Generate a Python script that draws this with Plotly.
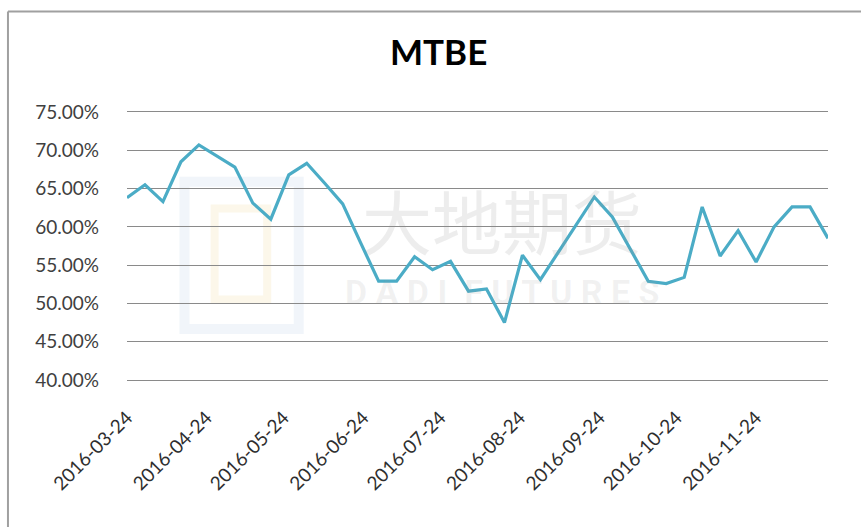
import plotly.graph_objects as go
import pandas as pd

dates = pd.date_range("2016-03-24", periods=40, freq="7D")
values = [63.8, 65.5, 63.3, 68.5, 70.7, 69.3, 67.8, 63.1, 61.0, 66.8,
          68.3, 65.7, 63.0, 57.9, 52.9, 52.9, 56.1, 54.4, 55.5, 51.6,
          51.9, 47.5, 56.3, 53.1, 56.7, 60.3, 63.9, 61.3, 57.2, 52.9,
          52.6, 53.4, 62.6, 56.2, 59.5, 55.4, 60.0, 62.6, 62.6, 58.5]
tick_dates = ["2016-03-24", "2016-04-24", "2016-05-24", "2016-06-24", "2016-07-24",
              "2016-08-24", "2016-09-24", "2016-10-24", "2016-11-24"]
y_ticks = [0.40, 0.45, 0.50, 0.55, 0.60, 0.65, 0.70, 0.75]

fig = go.Figure()
fig.add_trace(go.Scatter(
    x=dates, y=[v / 100 for v in values], mode="lines",
    line=dict(color="#4BACC6", width=3.2), hoverinfo="skip", showlegend=False))

font_main = "Lato, Carlito, Calibri, 'Open Sans', sans-serif"

fig.update_layout(
    width=861, height=527,
    margin=dict(l=127, r=33, t=112, b=147),
    paper_bgcolor="white", plot_bgcolor="rgba(0,0,0,0)",
    title=dict(text="<b>MTBE</b>", x=0.5095, xanchor="center", y=0.9, yanchor="middle",
               font=dict(family=font_main, size=35, color="#000000")),
    xaxis=dict(range=[dates[0], dates[-1]], tickvals=tick_dates, ticktext=tick_dates,
               tickangle=-45, showgrid=False, zeroline=False,
               showline=True, mirror=True, linecolor="#8a8a8a", linewidth=1.2,
               ticks="", ticklabelstandoff=18,
               tickfont=dict(family=font_main, size=19, color="#2e2e2e")),
    yaxis=dict(range=[0.40, 0.75], tickvals=y_ticks, tickformat=".2%",
               showgrid=True, gridcolor="#8a8a8a", gridwidth=1.2, zeroline=False,
               showline=False, ticks="", ticklabelstandoff=27,
               tickfont=dict(family=font_main, size=19, color="#404040")),
    shapes=[
        dict(type="line", xref="paper", yref="paper", x0=-0.1698, x1=1.06,
             y0=1.375, y1=1.375, line=dict(color="#a0a0a0", width=2), layer="below"),
        dict(type="line", xref="paper", yref="paper", x0=-0.1698, x1=-0.1698,
             y0=1.375, y1=-0.56, line=dict(color="#a0a0a0", width=2), layer="below"),
        dict(type="rect", xref="paper", yref="paper", x0=0.082, x1=0.245,
             y0=0.19, y1=0.74, line=dict(color="rgba(190,210,230,0.22)", width=10),
             layer="below"),
        dict(type="rect", xref="paper", yref="paper", x0=0.125, x1=0.2,
             y0=0.3, y1=0.64, line=dict(color="rgba(240,220,160,0.22)", width=8),
             layer="below"),
    ],
    annotations=[
        dict(text="大地期货", xref="paper", yref="paper", x=0.535, y=0.6,
             showarrow=False, font=dict(family="Noto Sans CJK SC", size=70,
                                        color="rgba(150,150,150,0.17)")),
        dict(text="<b>D A D I  F U T U R E S</b>", xref="paper", yref="paper",
             x=0.535, y=0.245, showarrow=False,
             font=dict(family="Roboto, sans-serif", size=34,
                       color="rgba(150,150,150,0.13)")),
    ],
)

fig.write_html("out.html", config={"displayModeBar": False},
               post_script="document.body.style.margin='0';")
